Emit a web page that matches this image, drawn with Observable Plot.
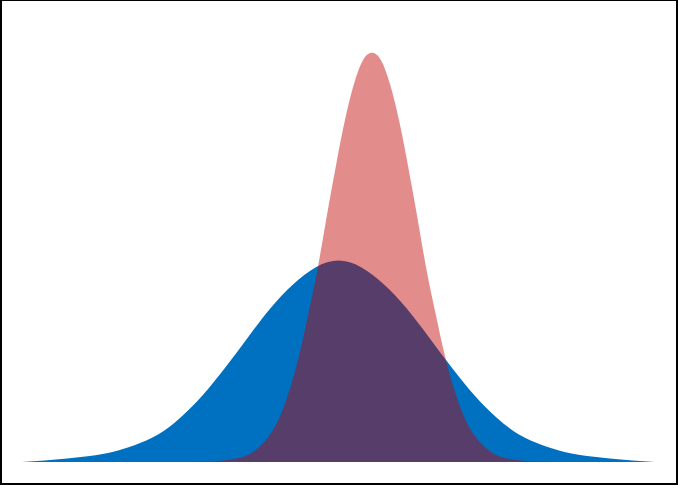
<!DOCTYPE html>
<html>
<head>
<meta charset="utf-8">
<script src="https://cdn.jsdelivr.net/npm/d3@7"></script>
<script src="https://cdn.jsdelivr.net/npm/@observablehq/plot@0.6"></script>
<style>
  html, body { margin: 0; padding: 0; background: #fff; }
  #wrap { position: relative; width: 678px; height: 485px; overflow: hidden; }
  #frame { position: absolute; left: 0; top: 0; width: 678px; height: 485px; box-sizing: border-box;
           border-style: solid; border-color: #000; border-width: 1px 2px 2px 2px; pointer-events: none; }
</style>
</head>
<body>
<div id="wrap"><div id="frame"></div></div>
<script>
// Wide distribution (blue): x positions and density values
const blueX = [-3.5, -3.25, -3.0, -2.75, -2.5, -2.25, -2.0, -1.75, -1.5, -1.25, -1.0, -0.75, -0.5, -0.25, 0,
               0.25, 0.5, 0.75, 1.0, 1.25, 1.5, 1.75, 2.0, 2.25, 2.5, 2.75, 3.0, 3.25, 3.5];
const blueY = [0, 0.003, 0.007, 0.012, 0.020, 0.034, 0.054, 0.088, 0.133, 0.188, 0.248, 0.306, 0.353, 0.387, 0.400,
               0.387, 0.353, 0.306, 0.248, 0.188, 0.133, 0.088, 0.054, 0.034, 0.020, 0.012, 0.007, 0.003, 0];

// Narrow distribution (red)
const redX = [-1.63, -1.43, -1.33, -1.23, -1.13, -1.03, -0.93, -0.83, -0.73, -0.63, -0.53, -0.43, -0.33, -0.23, -0.13, -0.03,
              0.07, 0.17, 0.27, 0.37, 0.47, 0.57, 0.67, 0.77, 0.87, 0.97, 1.07, 1.17, 1.27, 1.37, 1.47, 1.57,
              1.67, 1.77, 1.87, 1.97, 2.07, 2.17, 2.37];
const redY = [0, 0.001, 0.002, 0.004, 0.007, 0.012, 0.022, 0.038, 0.062, 0.098, 0.150, 0.216, 0.298, 0.385, 0.488, 0.587,
              0.678, 0.750, 0.798, 0.813, 0.798, 0.750, 0.678, 0.587, 0.488, 0.385, 0.298, 0.216, 0.150, 0.098, 0.062, 0.038,
              0.022, 0.012, 0.007, 0.004, 0.002, 0.001, 0];

const blue = blueX.map((x, i) => ({x, y: blueY[i]}));
const red = redX.map((x, i) => ({x, y: redY[i]}));

const chart = Plot.plot({
  width: 678,
  height: 485,
  marginLeft: 22,
  marginRight: 23,
  marginTop: 34,
  marginBottom: 23,
  x: {domain: [-3.5, 3.5], axis: null},
  y: {domain: [0, 0.85], axis: null},
  style: {background: "#fff"},
  marks: [
    Plot.areaY(blue, {x: "x", y: "y", fill: "#0070C0", curve: "natural"}),
    Plot.areaY(red, {x: "x", y: "y", fill: "#C00000", fillOpacity: 0.45, curve: "natural"})
  ]
});
chart.style.display = "block";
document.getElementById("wrap").prepend(chart);
</script>
</body>
</html>
